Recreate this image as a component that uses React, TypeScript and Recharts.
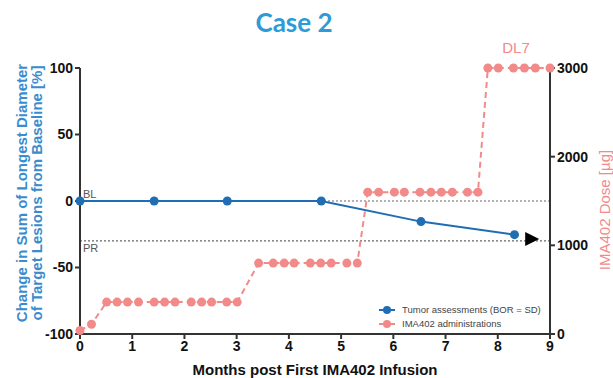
import React from 'react';
import { ComposedChart, Line, XAxis, YAxis, ReferenceLine, Scatter, Label } from 'recharts';

const tumorMonths = [0, 1.42, 2.82, 4.62, 6.53, 8.32];
const tumorChange = [0, 0, 0, 0, -15.5, -25.3];

const doseMonths = [
  0, 0.22,
  0.51, 0.71, 0.91, 1.12, 1.42, 1.62, 1.82, 2.13, 2.33, 2.52, 2.81, 3.01,
  3.42, 3.7, 3.91, 4.1, 4.41, 4.61, 4.81, 5.11, 5.31,
  5.51, 5.72, 6.02, 6.21, 6.51, 6.72, 6.92, 7.13, 7.42, 7.62,
  7.81, 8.01, 8.3, 8.51, 8.72, 9.0,
];
const doseValues = [
  40, 110,
  360, 360, 360, 360, 360, 360, 360, 360, 360, 360, 360, 360,
  800, 800, 800, 800, 800, 800, 800, 800, 800,
  1600, 1600, 1600, 1600, 1600, 1600, 1600, 1600, 1600, 1600,
  3000, 3000, 3000, 3000, 3000, 3000,
];

const arrowMonths = [8.64];
const arrowChange = [-28.5];

const xTicks = [0, 1, 2, 3, 4, 5, 6, 7, 8, 9];
const leftTicks = [-100, -50, 0, 50, 100];
const rightTicks = [0, 1000, 2000, 3000];

const tumorData = tumorMonths.map((m, i) => ({ month: m, change: tumorChange[i] }));
const doseData = doseMonths.map((m, i) => ({ month: m, dose: doseValues[i] }));
const arrowData = arrowMonths.map((m, i) => ({ month: m, change: arrowChange[i] }));

const BLUE = '#1f6db3';
const PINK = '#f28a8a';
const AXIS = '#333333';
const FONT = '"Liberation Sans", Arial, sans-serif';

const tickStyle = { fontSize: 14, fontWeight: 700, fill: '#111', fontFamily: FONT };

const Triangle = (props: any) => {
  const { cx, cy } = props;
  return <polygon points={`${cx - 6},${cy - 7} ${cx + 8},${cy} ${cx - 6},${cy + 7}`} fill="#000" />;
};

const LegendBox = () => (
  <div style={{ position: 'absolute', left: 378, top: 303, fontFamily: FONT, fontSize: 9.5, color: '#444', lineHeight: '14px' }}>
    {[{ c: BLUE, t: 'Tumor assessments (BOR = SD)' }, { c: PINK, t: 'IMA402 administrations' }].map((it) => (
      <div key={it.t} style={{ display: 'flex', alignItems: 'center' }}>
        <svg width={18} height={12} style={{ marginRight: 6 }}>
          <line x1={1} y1={6} x2={17} y2={6} stroke={it.c} strokeWidth={2} />
          <circle cx={9} cy={6} r={4} fill={it.c} />
        </svg>
        <span>{it.t}</span>
      </div>
    ))}
  </div>
);

export default function App() {
  return (
    <div style={{ position: 'absolute', left: 0, top: 0, width: 613, height: 378, background: '#fff', overflow: 'hidden' }}>
      <div style={{ position: 'absolute', left: 0, width: 588, top: 6, textAlign: 'center', fontFamily: 'Lato, "Open Sans", sans-serif', fontWeight: 700, fontSize: 26, color: '#2d9bd6' }}>
        Case 2
      </div>
      <div style={{ position: 'absolute', left: 496, top: 39, width: 40, textAlign: 'center', fontFamily: FONT, fontWeight: 400, fontSize: 15, color: PINK }}>
        DL7
      </div>
      <ComposedChart width={613} height={378} margin={{ top: 68, right: 0, bottom: 0, left: 0 }}>
        <XAxis
          type="number"
          dataKey="month"
          domain={[0, 9]}
          ticks={xTicks}
          allowDuplicatedCategory={false}
          stroke={AXIS}
          strokeWidth={2}
          tickSize={5}
          tick={tickStyle}
          height={44}
        >
          <Label
            content={() => (
              <text x={315} y={375} textAnchor="middle" fontFamily={FONT} fontWeight={700} fontSize={15} fill="#111">
                Months post First IMA402 Infusion
              </text>
            )}
          />
        </XAxis>
        <YAxis
          yAxisId="left"
          type="number"
          domain={[-100, 100]}
          ticks={leftTicks}
          width={80}
          stroke={AXIS}
          strokeWidth={2}
          tickSize={5}
          tick={tickStyle}
        >
          <Label
            content={() => (
              <g transform="translate(0, 193) rotate(-90)">
                <text x={0} y={27} textAnchor="middle" fontFamily={FONT} fontWeight={700} fontSize={15} fill="#3a8ccf">
                  Change in Sum of Longest Diameter
                </text>
                <text x={0} y={42} textAnchor="middle" fontFamily={FONT} fontWeight={700} fontSize={15} fill="#3a8ccf">
                  of Target Lesions from Baseline [%]
                </text>
              </g>
            )}
          />
        </YAxis>
        <YAxis
          yAxisId="right"
          orientation="right"
          type="number"
          domain={[0, 3000]}
          ticks={rightTicks}
          width={63}
          stroke={AXIS}
          strokeWidth={2}
          tickSize={5}
          tick={tickStyle}
        >
          <Label
            content={() => (
              <text transform="translate(610, 210) rotate(-90)" textAnchor="middle" fontFamily={FONT} fontSize={15} fill={PINK}>
                IMA402 Dose [µg]
              </text>
            )}
          />
        </YAxis>
        <ReferenceLine yAxisId="left" y={0} stroke="#666" strokeDasharray="2 2" strokeWidth={1.2}>
          <Label value="BL" position="insideBottomLeft" offset={3} fontSize={11} fill="#555" fontFamily={FONT} />
        </ReferenceLine>
        <ReferenceLine yAxisId="left" y={-30} stroke="#666" strokeDasharray="2 2" strokeWidth={1.2}>
          <Label value="PR" position="insideTopLeft" offset={3} fontSize={11} fill="#555" fontFamily={FONT} />
        </ReferenceLine>
        <Line
          yAxisId="right"
          data={doseData}
          dataKey="dose"
          stroke={PINK}
          strokeWidth={2}
          strokeDasharray="6 4"
          dot={{ r: 4.5, fill: PINK, stroke: 'none' }}
          activeDot={false}
          isAnimationActive={false}
        />
        <Line
          yAxisId="left"
          data={tumorData}
          dataKey="change"
          stroke={BLUE}
          strokeWidth={2}
          dot={{ r: 4.5, fill: BLUE, stroke: 'none' }}
          activeDot={false}
          isAnimationActive={false}
        />
        <Scatter yAxisId="left" data={arrowData} dataKey="change" shape={<Triangle />} isAnimationActive={false} />
      </ComposedChart>
      <LegendBox />
    </div>
  );
}
